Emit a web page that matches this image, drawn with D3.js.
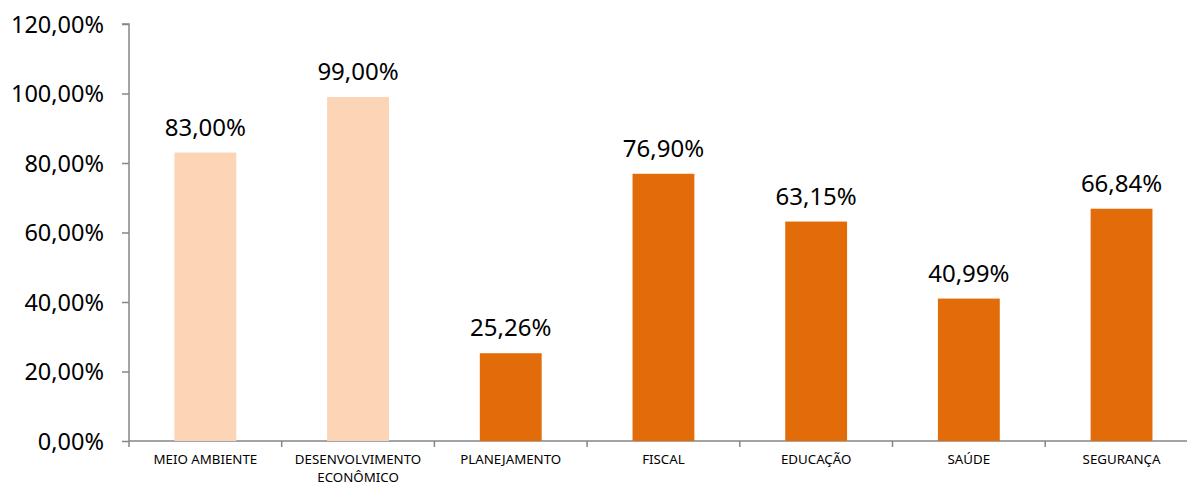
<!DOCTYPE html>
<html>
<head>
<meta charset="utf-8">
<script src="https://cdn.jsdelivr.net/npm/d3@7"></script>
<style>
  body { margin: 0; background: #fff; }
  text { font-family: "Noto Sans", "Liberation Sans", sans-serif; fill: #000; }
</style>
</head>
<body>
<div id="vis"></div>
<script>
// DATA
const categories = ["MEIO AMBIENTE", "DESENVOLVIMENTO ECONÔMICO", "PLANEJAMENTO", "FISCAL", "EDUCAÇÃO", "SAÚDE", "SEGURANÇA"];
const values = [83.00, 99.00, 25.26, 76.90, 63.15, 40.99, 66.84];
const highlight = [false, false, true, true, true, true, true];
const yTicks = [0, 20, 40, 60, 80, 100, 120];

const width = 1187, height = 485;
const margin = {left: 129, right: 0, top: 24, bottom: 44};

const fmt = v => v.toFixed(2).replace(".", ",") + "%";

const svg = d3.select("#vis").append("svg")
  .attr("width", width)
  .attr("height", height);

// SCALES
const x = d3.scaleBand()
  .domain(categories)
  .range([margin.left, margin.left + 152.7 * categories.length])
  .paddingInner(0.595)
  .paddingOuter(0.2975);

const y = d3.scaleLinear()
  .domain([0, 120])
  .range([height - margin.bottom, margin.top]);

// AXES
const axisColor = "#868686";

const yAxis = svg.append("g")
  .attr("transform", `translate(${margin.left},0)`)
  .call(d3.axisLeft(y).tickValues(yTicks).tickSize(7).tickPadding(18).tickFormat(fmt));
yAxis.selectAll("path, line").attr("stroke", axisColor).attr("stroke-width", 1.5);
yAxis.select(".domain").attr("d", `M-7,${y(120)}H0V${y(0)}`);
yAxis.selectAll("text")
  .attr("dy", "0.36em")
  .style("font-size", "23.5px")
  .style("font-family", "'Noto Sans', sans-serif");

// category ticks between bands
const step = x.step();
const bounds = d3.range(categories.length + 1).map(i => margin.left + i * step);

svg.append("line")
  .attr("x1", margin.left).attr("x2", width)
  .attr("y1", y(0)).attr("y2", y(0))
  .attr("stroke", axisColor).attr("stroke-width", 1.5);

svg.selectAll(".ctick")
  .data(bounds)
  .enter().append("line")
  .attr("class", "ctick")
  .attr("x1", d => d).attr("x2", d => d)
  .attr("y1", y(0)).attr("y2", y(0) + 6)
  .attr("stroke", axisColor).attr("stroke-width", 1.5);

// BARS
svg.selectAll(".bar")
  .data(values)
  .enter().append("rect")
  .attr("class", "bar")
  .attr("x", (d, i) => x(categories[i]))
  .attr("width", x.bandwidth())
  .attr("y", d => y(d))
  .attr("height", d => y(0) - y(d))
  .attr("fill", (d, i) => highlight[i] ? "#E36C0A" : "#FBD5B5");

// value labels
svg.selectAll(".vlabel")
  .data(values)
  .enter().append("text")
  .attr("class", "vlabel")
  .attr("x", (d, i) => x(categories[i]) + x.bandwidth() / 2)
  .attr("y", d => y(d) - 17)
  .attr("text-anchor", "middle")
  .style("font-size", "24px")
  .text(fmt);

// category labels (long one on two lines)
const catLines = {"DESENVOLVIMENTO ECONÔMICO": ["DESENVOLVIMENTO", "ECONÔMICO"]};
categories.forEach(c => {
  const lines = catLines[c] || [c];
  lines.forEach((l, i) => {
    svg.append("text")
      .attr("x", x(c) + x.bandwidth() / 2)
      .attr("y", y(0) + 23 + i * 18)
      .attr("text-anchor", "middle")
      .style("font-size", "13.3px")
      .style("font-family", "'Noto Sans', sans-serif")
      .text(l);
  });
});
</script>
</body>
</html>
